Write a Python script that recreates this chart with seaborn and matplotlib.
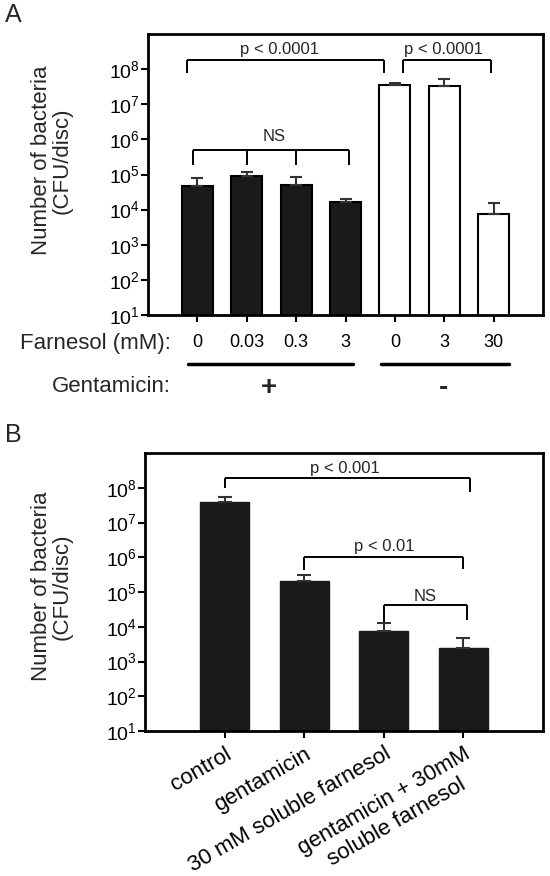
import numpy as np
import pandas as pd
import matplotlib
matplotlib.use("Agg")
import matplotlib.pyplot as plt
import matplotlib.transforms as mtransforms
from matplotlib.ticker import FixedLocator, FuncFormatter, NullLocator
import seaborn as sns

# -----------------------------------------------------------------------------
# Data (CFU per disc, bar = mean, whisker = upper SEM)
# -----------------------------------------------------------------------------
farnesol_labels = ["0", "0.03", "0.3", "3", "0", "3", "30"]
gentamicin = ["+", "+", "+", "+", "-", "-", "-"]
cfu_a = [4.6e4, 9.3e4, 4.9e4, 1.6e4, 3.6e7, 3.3e7, 7.5e3]
sem_a = [3.2e4, 2.7e4, 3.4e4, 0.4e4, 0.5e7, 1.8e7, 8.0e3]

treatments = ["control", "gentamicin", "30 mM soluble farnesol",
              "gentamicin + 30mM\nsoluble farnesol"]
cfu_b = [3.9e7, 2.1e5, 7.5e3, 2.4e3]
sem_b = [1.7e7, 0.9e5, 5.5e3, 2.4e3]

ytick_vals = [1e1, 1e2, 1e3, 1e4, 1e5, 1e6, 1e7, 1e8]

# significance brackets: (x_left, x_right, y_bar, drops [(x, y_end)], label, label_x, label_y)
brackets_a = [
    (-0.22, 3.78, 1.8e8, [(-0.22, 7.6e7), (3.78, 7.6e7)], "p < 0.0001", 1.66, 10**8.56),
    (4.16, 5.94, 1.8e8, [(4.16, 7.6e7), (5.94, 7.6e7)], "p < 0.0001", 4.98, 10**8.56),
    (-0.08, 3.08, 5.0e5, [(-0.08, 1.9e5), (1, 1.9e5), (2, 1.9e5), (3.08, 1.9e5)], "NS", 1.55, 10**6.07),
]
brackets_b = [
    (0, 3.08, 1.94e8, [(0, 1.0e8), (3.08, 7.4e7)], "p < 0.001", 1.51, 10**8.55),
    (1, 3.0, 1.0e6, [(1, 4.3e5), (3.0, 4.5e5)], "p < 0.01", 2.01, 10**6.32),
    (2, 3.05, 4.1e4, [(2, 1.4e4), (3.05, 1.6e4)], "NS", 2.52, 10**4.87),
]

sns.set_style("ticks")
plt.rcParams["font.family"] = ["Liberation Sans", "DejaVu Sans"]
plt.rcParams["mathtext.fontset"] = "custom"
plt.rcParams["mathtext.rm"] = "Liberation Sans"
plt.rcParams["mathtext.default"] = "regular"

BLACK = "#1a1a1a"


def style_axis(ax):
    ax.set_yscale("log")
    ax.set_ylim(1e1, 1e9)
    ax.yaxis.set_major_locator(FixedLocator(ytick_vals))
    ax.yaxis.set_minor_locator(NullLocator())
    ax.yaxis.set_major_formatter(FuncFormatter(lambda v, p: "$10^{%d}$" % round(np.log10(v))))
    for sp in ax.spines.values():
        sp.set_linewidth(2)
        sp.set_color("black")
        sp.set_zorder(5)
    ax.tick_params(axis="y", length=5, width=1.5, pad=1, labelsize=14, colors="black")
    ax.set_xlabel("")
    ax.set_ylabel("Number of bacteria\n(CFU/disc)", fontsize=16, linespacing=1.0)
    ax.yaxis.label.set_va("center")


def draw_brackets(ax, brackets):
    for x0, x1, y, drops, label, tx, ty in brackets:
        ax.plot([x0, x1], [y, y], color="black", lw=1.4, solid_capstyle="butt")
        for dx, dy in drops:
            ax.plot([dx, dx], [y, dy], color="black", lw=1.4, solid_capstyle="butt")
        ax.text(tx, ty, label, ha="center", va="center", fontsize=12)


fig = plt.figure(figsize=(5.5, 8.76), dpi=100)
axA = fig.add_axes([148 / 550, 1 - 315 / 876, 395 / 550, 281 / 876])
axB = fig.add_axes([145 / 550, 1 - 731 / 876, 398 / 550, 278 / 876])

# ---------------------------- panel A ----------------------------------------
cond_ids = [g + f for g, f in zip(gentamicin, farnesol_labels)]
df_a = pd.DataFrame({"cond": cond_ids, "cfu": cfu_a, "gent": gentamicin})
sns.barplot(data=df_a, x="cond", y="cfu", hue="gent", order=cond_ids,
            palette={"+": BLACK, "-": "white"}, saturation=1, dodge=False,
            errorbar=None, width=0.63, edgecolor="black", linewidth=1.5,
            legend=False, ax=axA)
axA.errorbar(np.arange(len(cfu_a)), cfu_a, yerr=[np.zeros(len(sem_a)), sem_a],
             fmt="none", ecolor="#333333", elinewidth=1.5, capsize=4, capthick=1.5, zorder=3)
style_axis(axA)
axA.set_xlim(-1, 7)
axA.set_xticks(range(len(farnesol_labels)))
axA.set_xticklabels(farnesol_labels)
axA.tick_params(axis="x", length=5, width=1.5, pad=9, labelsize=13, colors="black")
axA.yaxis.set_label_coords(-0.243, 0.55)
draw_brackets(axA, brackets_a)

# row labels and group underlines below panel A
blend = mtransforms.blended_transform_factory(axA.transData, fig.transFigure)
fig.text(171 / 550, 1 - 343 / 876, "Farnesol (mM):", ha="right", va="center", fontsize=16)
fig.text(171 / 550, 1 - 386 / 876, "Gentamicin:", ha="right", va="center", fontsize=16)
for x0, x1 in [(-0.18, 3.15), (3.71, 6.32)]:
    axA.plot([x0, x1], [1 - 364 / 876] * 2, color="black", lw=2.5,
             transform=blend, clip_on=False)
axA.text(1.44, 1 - 388 / 876, "+", transform=blend, ha="center", va="center",
         fontsize=20, fontweight="bold")
axA.text(4.99, 1 - 388 / 876, "-", transform=blend, ha="center", va="center",
         fontsize=20, fontweight="bold")

# ---------------------------- panel B ----------------------------------------
df_b = pd.DataFrame({"treatment": treatments, "cfu": cfu_b})
sns.barplot(data=df_b, x="treatment", y="cfu", order=treatments, color=BLACK,
            saturation=1, errorbar=None, width=0.62, edgecolor=BLACK, linewidth=1,
            ax=axB)
axB.errorbar(np.arange(len(cfu_b)), cfu_b, yerr=[np.zeros(len(sem_b)), sem_b],
             fmt="none", ecolor="#333333", elinewidth=1.5, capsize=5, capthick=1.5, zorder=3)
style_axis(axB)
axB.set_xlim(-1, 4)
axB.set_xticks(range(len(treatments)))
axB.set_xticklabels(treatments, rotation=30, ha="right", rotation_mode="anchor",
                    fontsize=16, multialignment="center")
axB.tick_params(axis="x", length=5, width=1.5, pad=4, colors="black")
axB.yaxis.set_label_coords(-0.234, 0.52)
draw_brackets(axB, brackets_b)

fig.text(5 / 550, 1 - 15 / 876, "A", ha="left", va="center", fontsize=18)
fig.text(5 / 550, 1 - 435 / 876, "B", ha="left", va="center", fontsize=18)

fig.savefig("out.png", dpi=100)
